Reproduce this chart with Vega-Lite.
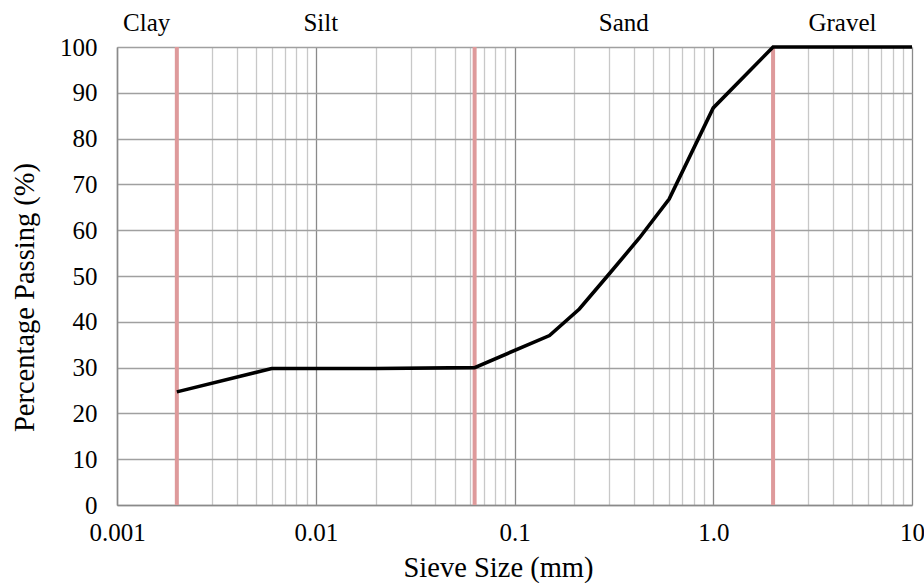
{
  "$schema": "https://vega.github.io/schema/vega-lite/v6.json",
  "width": 795,
  "height": 458,
  "autosize": {"type": "none"},
  "padding": {"left": 117, "top": 47, "right": 12, "bottom": 78},
  "background": "white",
  "config": {
    "font": "Liberation Serif",
    "view": {"stroke": null}
  },
  "datasets": {
    "grading": [
      {"size": 0.002, "pass": 24.7},
      {"size": 0.006, "pass": 29.8},
      {"size": 0.02, "pass": 29.8},
      {"size": 0.063, "pass": 30.0},
      {"size": 0.15, "pass": 37.0},
      {"size": 0.212, "pass": 42.8},
      {"size": 0.3, "pass": 50.5},
      {"size": 0.425, "pass": 58.3},
      {"size": 0.6, "pass": 66.8},
      {"size": 1.0, "pass": 86.7},
      {"size": 2.0, "pass": 100},
      {"size": 10, "pass": 100}
    ],
    "boundaries": [
      {"size": 0.002},
      {"size": 0.063},
      {"size": 2.0}
    ],
    "zones": [
      {"zone": "Clay", "size": 0.00141},
      {"zone": "Silt", "size": 0.0106},
      {"zone": "Sand", "size": 0.355},
      {"zone": "Gravel", "size": 4.47}
    ]
  },
  "layer": [
    {
      "data": {"name": "boundaries"},
      "mark": {"type": "rule", "color": "#de9a9b", "strokeWidth": 4},
      "encoding": {
        "x": {"field": "size", "type": "quantitative", "title": "Sieve Size (mm)"},
        "y": {"datum": 0, "type": "quantitative", "title": "Percentage Passing (%)"},
        "y2": {"datum": 100}
      }
    },
    {
      "data": {"name": "grading"},
      "mark": {"type": "line", "color": "black", "strokeWidth": 3.6, "strokeJoin": "miter", "clip": false},
      "encoding": {
        "x": {
          "field": "size",
          "type": "quantitative",
          "title": "Sieve Size (mm)",
          "scale": {"type": "log", "domain": [0.001, 10], "nice": false},
          "axis": {
            "values": [0.001, 0.002, 0.003, 0.004, 0.005, 0.006, 0.007, 0.008, 0.009,
                       0.01, 0.02, 0.03, 0.04, 0.05, 0.06, 0.07, 0.08, 0.09,
                       0.1, 0.2, 0.3, 0.4, 0.5, 0.6, 0.7, 0.8, 0.9,
                       1, 2, 3, 4, 5, 6, 7, 8, 9, 10],
            "grid": true,
            "gridColor": {
              "condition": {"test": "abs(log(datum.value)/LN10 - round(log(datum.value)/LN10)) < 0.001", "value": "#8a8a8a"},
              "value": "#c8c8c8"
            },
            "gridWidth": 1.3,
            "ticks": false,
            "domainColor": "#8a8a8a",
            "domainWidth": 1.5,
            "labelExpr": "datum.value == 1 ? '1.0' : (abs(log(datum.value)/LN10 - round(log(datum.value)/LN10)) < 0.001 ? format(datum.value, '~g') : '')",
            "labelOverlap": false,
            "labelBound": false,
            "labelFlush": false,
            "labelFontSize": 25,
            "labelColor": "black",
            "labelPadding": 15,
            "titleFontSize": 28.5,
            "titleFontWeight": "normal",
            "titleColor": "black",
            "titleBaseline": "alphabetic",
            "titleX": 381,
            "titleY": 71
          }
        },
        "y": {
          "field": "pass",
          "type": "quantitative",
          "title": "Percentage Passing (%)",
          "scale": {"domain": [0, 100], "nice": false},
          "axis": {
            "values": [0, 10, 20, 30, 40, 50, 60, 70, 80, 90, 100],
            "grid": true,
            "gridColor": "#a0a0a0",
            "gridWidth": 1.3,
            "ticks": false,
            "domainColor": "#8a8a8a",
            "domainWidth": 1.5,
            "labelFontSize": 25,
            "labelColor": "black",
            "labelPadding": 20,
            "labelOverlap": false,
            "labelBound": false,
            "labelFlush": false,
            "titleFontSize": 28.5,
            "titleFontWeight": "normal",
            "titleColor": "black",
            "titleBaseline": "alphabetic",
            "titleX": -84,
            "titleY": 250
          }
        }
      }
    },
    {
      "data": {"name": "zones"},
      "mark": {"type": "text", "fontSize": 25, "color": "black", "baseline": "alphabetic", "align": "center"},
      "encoding": {
        "x": {"field": "size", "type": "quantitative", "title": "Sieve Size (mm)"},
        "y": {"datum": 103.4, "type": "quantitative", "title": "Percentage Passing (%)"},
        "text": {"field": "zone"}
      }
    }
  ]
}
